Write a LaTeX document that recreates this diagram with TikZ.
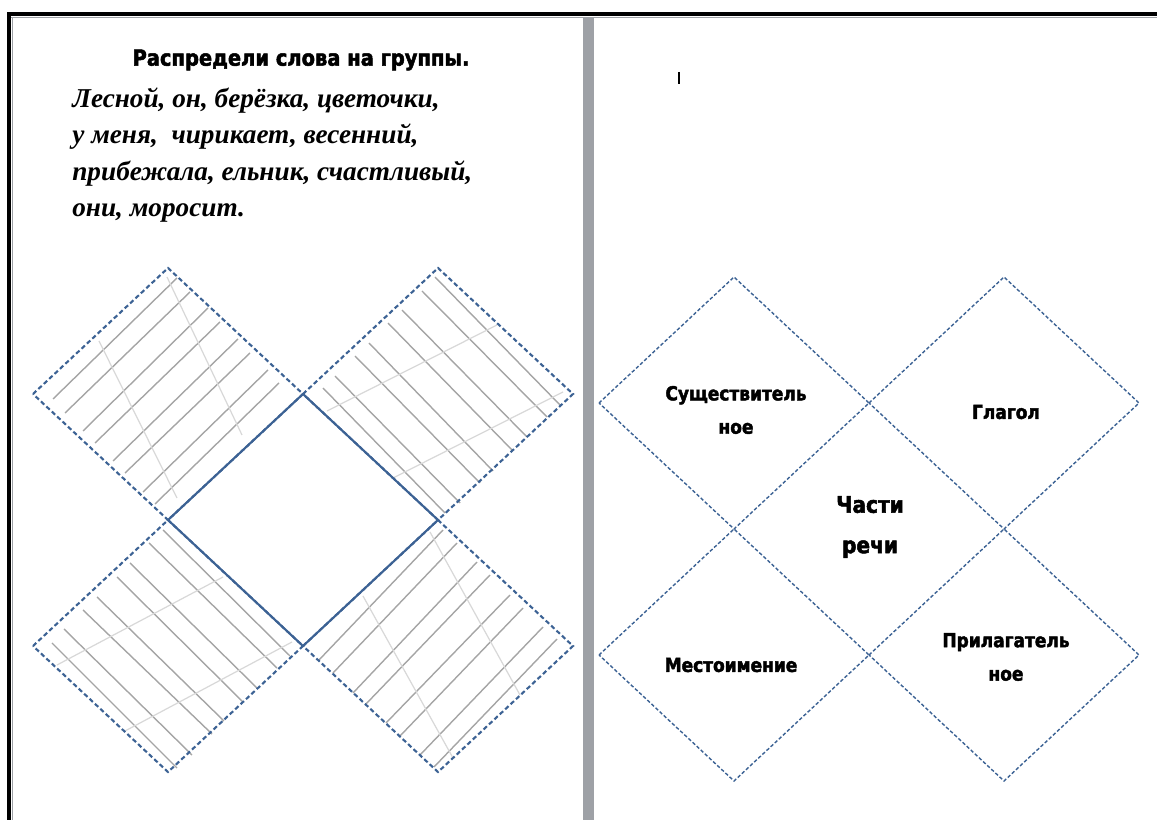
\documentclass[tikz,border=0pt]{standalone}
\usepackage{fontspec}
\setmainfont{Liberation Serif}
\newfontfamily\heavyfont[FakeStretch=0.88, BoldFeatures={FakeBold=2.2}]{DejaVu Sans}
\usetikzlibrary{calc}
\definecolor{edgeblue}{RGB}{60,98,148}
\definecolor{hatchgray}{RGB}{165,165,165}
\definecolor{palegray}{RGB}{216,216,216}
\definecolor{bargray}{RGB}{158,161,166}

\begin{document}
\begin{tikzpicture}[
    x=0.02cm, y=-0.02cm,
    cut/.style={draw=edgeblue, line width=1.2pt, dash pattern=on 2.6pt off 1.6pt},
    cutthin/.style={draw=edgeblue, line width=0.8pt, dash pattern=on 2pt off 1.2pt},
    fold/.style={draw=edgeblue, line width=1.2pt},
    hatch/.style={draw=hatchgray, line width=0.8pt},
    crossline/.style={draw=palegray, line width=0.7pt},
    heading/.style={font=\heavyfont\bfseries\fontsize{12.6}{14}\selectfont},
    wordlist/.style={font=\bfseries\itshape\fontsize{15.5}{20.5}\selectfont, align=left, inner sep=0pt},
    partname/.style={font=\heavyfont\bfseries\fontsize{11}{19}\selectfont, align=center, inner sep=0pt},
    bigname/.style={font=\heavyfont\bfseries\fontsize{13}{23}\selectfont, align=center, inner sep=0pt}
]
\useasboundingbox (0,0) rectangle (1157,820);

% page frame
\fill[black] (7,12) rectangle (1157,16);
\fill[black] (7,12) rectangle (11,820);
\draw[bargray, line width=0.6pt] (11,17.5) -- (1157,17.5);
\draw[bargray, line width=0.6pt] (12.5,17) -- (12.5,820);
\fill[bargray] (583,17) rectangle (594,820);

% LEFT PAGE
\node[heading] (title) at (301,60) {Распредели слова на группы.};
\node[wordlist, anchor=north west] (words) at (72,88)
    {Лесной, он, берёзка, цветочки,\\у меня,~ чирикает, весенний,\\прибежала, ельник, счастливый,\\они, моросит.};

% hatching
\foreach \ax/\ay/\bx/\by in {53/399/177/278, 65/413/190/292, 83/431/208/308, 95/443/220/322,
    113/461/238/339, 125/473/250/353, 143/492/268/370, 155/504/279/383,
    323/388/445/513, 335/376/460/503, 355/356/480/483, 369/343/493/471,
    388/323/513/451, 402/310/527/437, 422/291/547/417, 435/277/560/405,
    52/643/177/768, 64/629/192/755, 83/610/212/734, 97/597/224/721,
    117/577/243/702, 130/563/257/688, 149/543/277/668, 163/530/290/656,
    319/660/443/530, 333/673/457/543, 353/693/477/562, 366/704/490/575,
    386/723/510/595, 400/736/523/608, 420/755/543/627, 434/767/557/639}
    \draw[hatch] (\ax,\ay) -- (\bx,\by);
\foreach \ax/\ay/\bx/\by in {99/341/177/498, 167/277/242/435,
    327/411/497/325, 393/478/563/392,
    57/665/223/577, 125/731/292/642,
    363/596/453/758, 430/532/520/695}
    \draw[crossline] (\ax,\ay) -- (\bx,\by);

% cut-out diamonds
\foreach \cx/\cy in {168/394, 438/394, 168/646, 438/646}
    \draw[cut] (\cx-135,\cy) -- (\cx,\cy-126) -- (\cx+135,\cy) -- (\cx,\cy+126) -- cycle;
\draw[fold] (303,394) -- (438,520) -- (303,646) -- (168,520) -- cycle;

% RIGHT PAGE
\draw[line width=0.9pt] (679,72) -- (679,84);

\foreach \cx/\cy in {734/403, 1004/403, 734/655, 1004/655}
    \draw[cutthin] (\cx-135,\cy) -- (\cx,\cy-126) -- (\cx+135,\cy) -- (\cx,\cy+126) -- cycle;

\node[partname] (noun) at (736,410) {Существитель\\ное};
\node[partname] (verb) at (1006,412) {Глагол};
\node[bigname] (parts) at (870,527) {Части\\речи};
\node[partname] (pron) at (731,665) {Местоимение};
\node[partname] (adj) at (1006,657) {Прилагатель\\ное};

\end{tikzpicture}
\end{document}
